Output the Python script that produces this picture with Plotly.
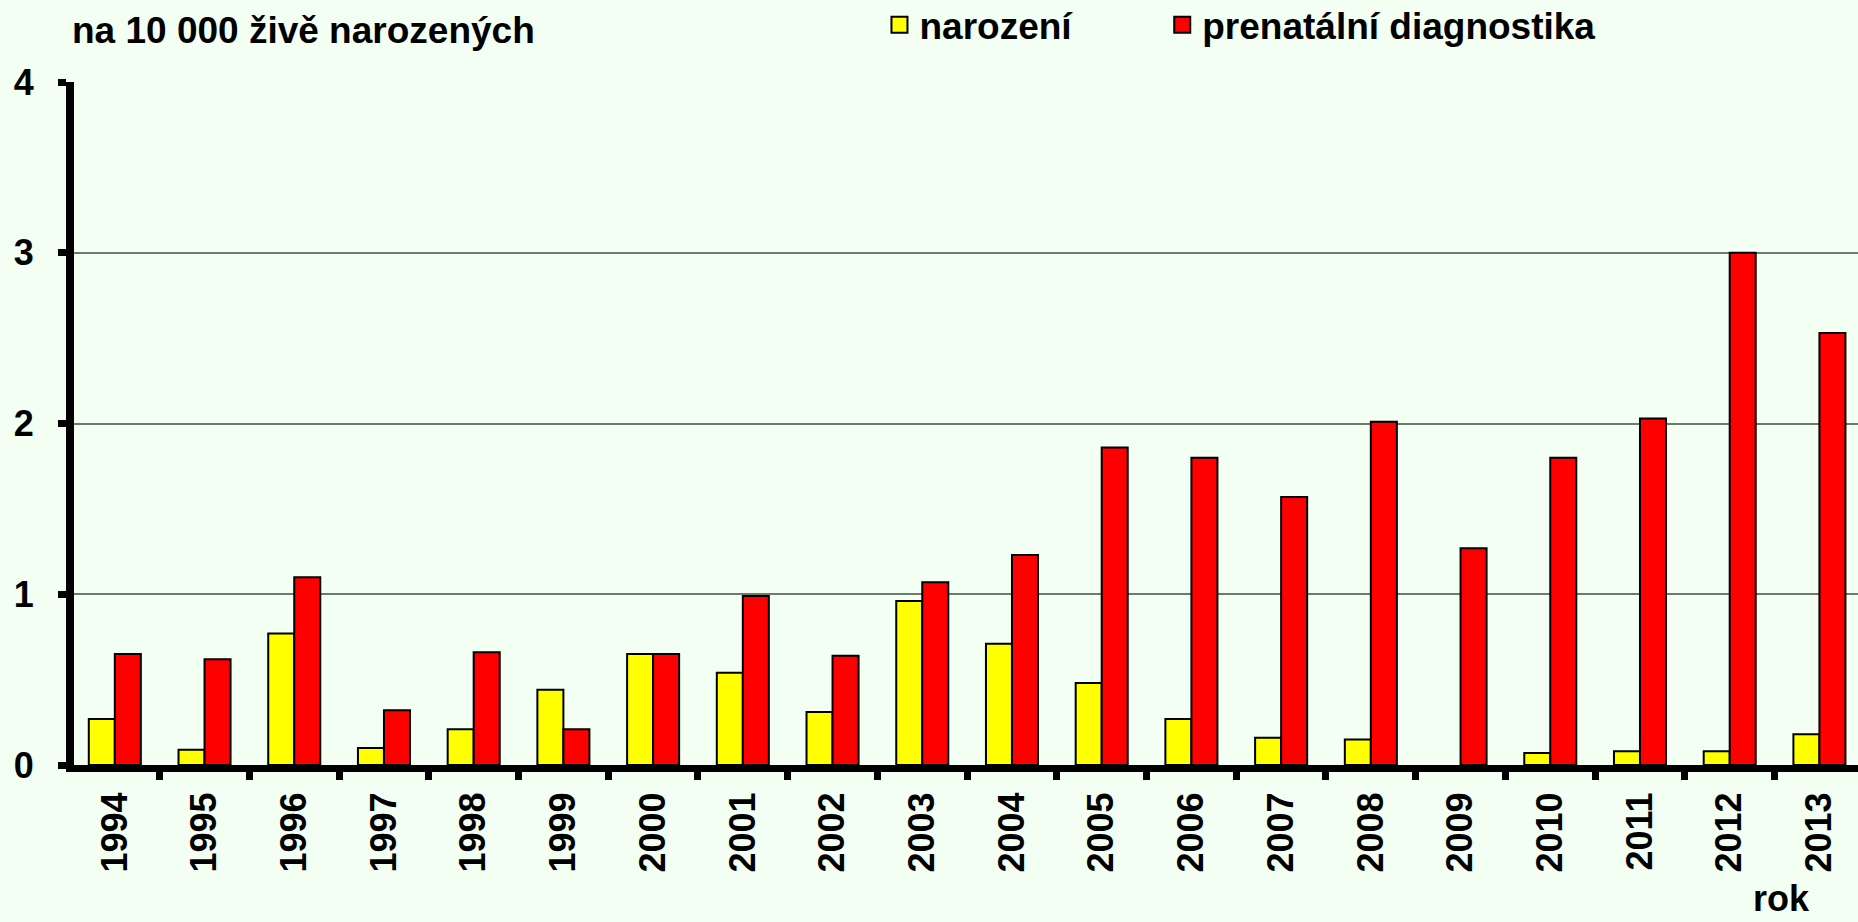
import plotly.graph_objects as go

years = [str(y) for y in range(1994, 2014)]
# 2009: no case at birth -> no bar drawn
narozeni = [0.27, 0.09, 0.77, 0.10, 0.21, 0.44, 0.65, 0.54, 0.31, 0.96,
            0.71, 0.48, 0.27, 0.16, 0.15, None, 0.07, 0.08, 0.08, 0.18]
prenatalni = [0.65, 0.62, 1.10, 0.32, 0.66, 0.21, 0.65, 0.99, 0.64, 1.07,
              1.23, 1.86, 1.80, 1.57, 2.01, 1.27, 1.80, 2.03, 3.00, 2.53]

BG = "#F2FFF2"
FONT = "Liberation Sans, Arial, sans-serif"
FS = 36

series = [
    ("narození", narozeni, "#FFFF00", "legend"),
    ("prenatální diagnostika", prenatalni, "#FF0000", "legend2"),
]

fig = go.Figure()
for name, vals, color, leg in series:
    fig.add_trace(go.Bar(
        x=years, y=vals, name=name, showlegend=False,
        marker=dict(color=color, line=dict(color="black", width=2))
    ))
    # legend-only entry so the key square is as big as in the original
    fig.add_trace(go.Scatter(
        x=[None], y=[None], name=name, legend=leg, mode="markers",
        marker=dict(symbol="square", size=16, color=color,
                    line=dict(color="black", width=2))
    ))

legend_style = dict(
    orientation="h", xanchor="left", y=1.083, yanchor="middle",
    bgcolor="rgba(0,0,0,0)", font=dict(size=37, weight="bold"),
    itemclick=False, itemdoubleclick=False, itemsizing="trace",
)

fig.update_layout(
    width=1858, height=922,
    margin=dict(l=74, r=0, t=82, b=157, autoexpand=False),
    paper_bgcolor=BG, plot_bgcolor=BG,
    font=dict(family=FONT, size=FS, color="black", weight="bold"),
    barmode="group", bargap=0.42, bargroupgap=0,
    showlegend=True,
    legend=dict(x=0.4515, **legend_style),
    legend2=dict(x=0.61, **legend_style),
    annotations=[
        dict(text="na 10 000 živě narozených", xref="paper", yref="paper",
             x=-0.0022, y=1.0747, xanchor="left", yanchor="middle",
             showarrow=False, font=dict(size=37, weight="bold")),
        dict(text="rok", xref="paper", yref="paper",
             x=0.957, y=-0.196, xanchor="center", yanchor="middle",
             showarrow=False, font=dict(size=FS, weight="bold")),
    ],
)

fig.update_xaxes(
    type="category", range=[-0.455, 19.43],
    showline=True, linecolor="black", linewidth=7,
    ticks="outside", tickson="boundaries", ticklen=8, tickwidth=7, tickcolor="black",
    tickangle=-90, tickfont=dict(size=FS, weight="bold"), ticklabelstandoff=6,
    showgrid=False, fixedrange=True,
)
fig.update_yaxes(
    range=[0, 4], dtick=1, showline=True, linecolor="black", linewidth=8,
    ticks="outside", ticklen=8, tickwidth=7, tickcolor="black",
    tickfont=dict(size=FS, weight="bold"), ticklabelstandoff=17,
    showgrid=True, gridcolor="#6E7A6E", gridwidth=1.5, zeroline=False,
    fixedrange=True,
)

# page has a default body margin; drop it so the figure fills the window exactly
fig.write_html("out.html", config={"displayModeBar": False},
               post_script="document.body.style.margin='0';document.body.style.overflow='hidden';")
